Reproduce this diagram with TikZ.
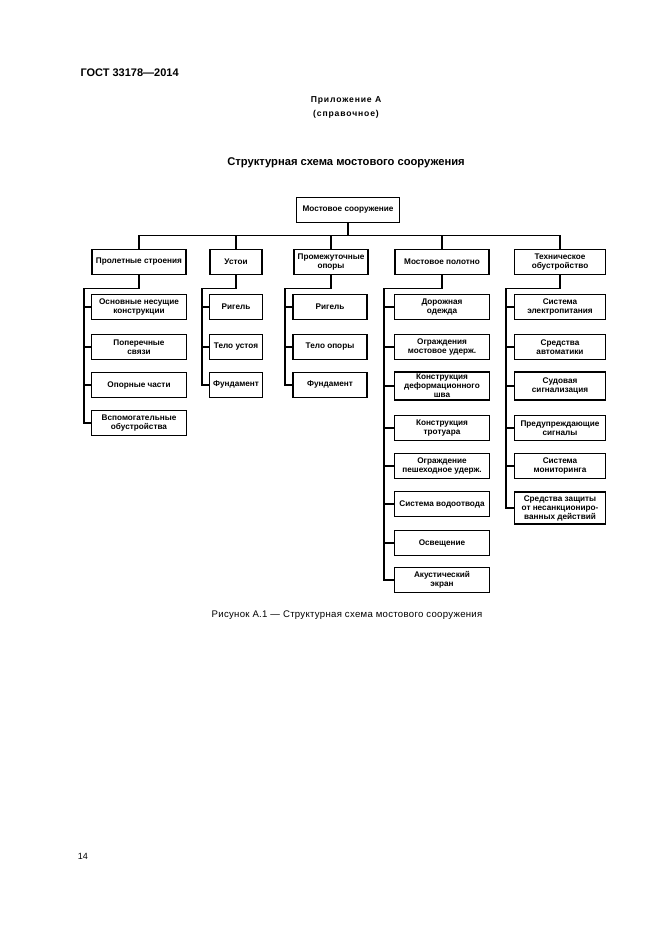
\documentclass[tikz,border=0pt]{standalone}
\usepackage{fontspec}
\setmainfont{Liberation Sans}

\newcommand\boxfont{\fontsize{8.2}{9}\selectfont\bfseries}

\begin{document}
\begin{tikzpicture}[x=1pt, y=-1pt,
    blk/.style = {shape=rectangle, draw, line width=1.8pt,
      align=center, inner sep=1pt, minimum height=25pt, font=\boxfont},
    wire/.style = {line width=1.8pt}]
  \useasboundingbox (0,0) rectangle (661,936);

  % page texts
  \node[anchor=west, font=\fontsize{11}{13}\selectfont\bfseries] (gost) at (77,73) {ГОСТ 33178—2014};
  \node[font=\fontsize{8.6}{10}\selectfont\bfseries\addfontfeature{LetterSpace=10}] (app) at (346,100) {Приложение А};
  \node[font=\fontsize{8.6}{10}\selectfont\bfseries\addfontfeature{LetterSpace=10}] (ref) at (346,114) {(справочное)};
  \node[font=\fontsize{11.2}{13}\selectfont\bfseries] (title) at (346,163) {Структурная схема мостового сооружения};
  \node[font=\fontsize{9.6}{11}\selectfont\addfontfeature{LetterSpace=3}] (cap) at (347,615) {Рисунок А.1 — Структурная схема мостового сооружения};
  \node[font=\fontsize{9}{11}\selectfont] (page) at (83,856) {14};

  % top
  \node[blk, minimum width=103pt] (root) at (348,210) {Мостовое сооружение};

  % level 1
  \node[blk, minimum width=94pt] (ps) at (139,262) {Пролетные строения};
  \node[blk, minimum width=52pt] (us) at (236,262) {Устои};
  \node[blk, minimum width=74pt] (po) at (331,262) {Промежуточные\\опоры};
  \node[blk, minimum width=94pt] (mp) at (442,262) {Мостовое полотно};
  \node[blk, minimum width=91pt] (to) at (560,262) {Техническое\\обустройство};

  % spans
  \node[blk, minimum width=95pt] (ps1) at (139,307) {Основные несущие\\конструкции};
  \node[blk, minimum width=95pt] (ps2) at (139,347) {Поперечные\\связи};
  \node[blk, minimum width=95pt] (ps3) at (139,385) {Опорные части};
  \node[blk, minimum width=95pt] (ps4) at (139,423) {Вспомогательные\\обустройства};

  % abutments
  \node[blk, minimum width=53pt] (us1) at (236,307) {Ригель};
  \node[blk, minimum width=53pt] (us2) at (236,347) {Тело устоя};
  \node[blk, minimum width=53pt] (us3) at (236,385) {Фундамент};

  % piers
  \node[blk, minimum width=74pt] (po1) at (330,307) {Ригель};
  \node[blk, minimum width=74pt] (po2) at (330,347) {Тело опоры};
  \node[blk, minimum width=74pt] (po3) at (330,385) {Фундамент};

  % deck
  \node[blk, minimum width=95pt] (mp1) at (442,307) {Дорожная\\одежда};
  \node[blk, minimum width=95pt] (mp2) at (442,347) {Ограждения\\мостовое удерж.};
  \node[blk, minimum width=95pt, minimum height=28pt] (mp3) at (442,386) {Конструкция\\деформационного\\шва};
  \node[blk, minimum width=95pt] (mp4) at (442,428) {Конструкция\\тротуара};
  \node[blk, minimum width=95pt] (mp5) at (442,466) {Ограждение\\пешеходное удерж.};
  \node[blk, minimum width=95pt] (mp6) at (442,504) {Система водоотвода};
  \node[blk, minimum width=95pt] (mp7) at (442,543) {Освещение};
  \node[blk, minimum width=95pt] (mp8) at (442,580) {Акустический\\экран};

  % equipment
  \node[blk, minimum width=91pt] (to1) at (560,307) {Система\\электропитания};
  \node[blk, minimum width=91pt] (to2) at (560,347) {Средства\\автоматики};
  \node[blk, minimum width=91pt, minimum height=28pt] (to3) at (560,386) {Судовая\\сигнализация};
  \node[blk, minimum width=91pt] (to4) at (560,428) {Предупреждающие\\сигналы};
  \node[blk, minimum width=91pt] (to5) at (560,466) {Система\\мониторинга};
  \node[blk, minimum width=91pt, minimum height=32pt] (to6) at (560,508) {Средства защиты\\от несанкциониро-\\ванных действий};

  % bus
  \draw[wire] (root.south) -- ++(0,12) coordinate (hub);
  \draw[wire] (ps.north) |- (hub) -| (to.north);
  \draw[wire] (us.north) -- (us.north |- hub);
  \draw[wire] (po.north) -- (po.north |- hub);
  \draw[wire] (mp.north) -- (mp.north |- hub);

  % brackets
  \draw[wire] (ps.south) -- ++(0,13) -| ([xshift=-7pt]ps4.west) -- (ps4.west);
  \draw[wire] ([xshift=-7pt]ps1.west) -- (ps1.west) ([xshift=-7pt]ps2.west) -- (ps2.west)
    ([xshift=-7pt]ps3.west) -- (ps3.west);
  \draw[wire] (us.south) -- ++(0,13) -| ([xshift=-7pt]us3.west) -- (us3.west);
  \draw[wire] ([xshift=-7pt]us1.west) -- (us1.west) ([xshift=-7pt]us2.west) -- (us2.west);
  \draw[wire] (po.south) -- ++(0,13) -| ([xshift=-7pt]po3.west) -- (po3.west);
  \draw[wire] ([xshift=-7pt]po1.west) -- (po1.west) ([xshift=-7pt]po2.west) -- (po2.west);
  \draw[wire] (mp.south) -- ++(0,13) -| ([xshift=-10pt]mp8.west) -- (mp8.west);
  \draw[wire] ([xshift=-10pt]mp1.west) -- (mp1.west) ([xshift=-10pt]mp2.west) -- (mp2.west)
    ([xshift=-10pt]mp3.west) -- (mp3.west) ([xshift=-10pt]mp4.west) -- (mp4.west)
    ([xshift=-10pt]mp5.west) -- (mp5.west) ([xshift=-10pt]mp6.west) -- (mp6.west)
    ([xshift=-10pt]mp7.west) -- (mp7.west);
  \draw[wire] (to.south) -- ++(0,13) -| ([xshift=-8pt]to6.west) -- (to6.west);
  \draw[wire] ([xshift=-8pt]to1.west) -- (to1.west) ([xshift=-8pt]to2.west) -- (to2.west)
    ([xshift=-8pt]to3.west) -- (to3.west) ([xshift=-8pt]to4.west) -- (to4.west)
    ([xshift=-8pt]to5.west) -- (to5.west);
\end{tikzpicture}
\end{document}
